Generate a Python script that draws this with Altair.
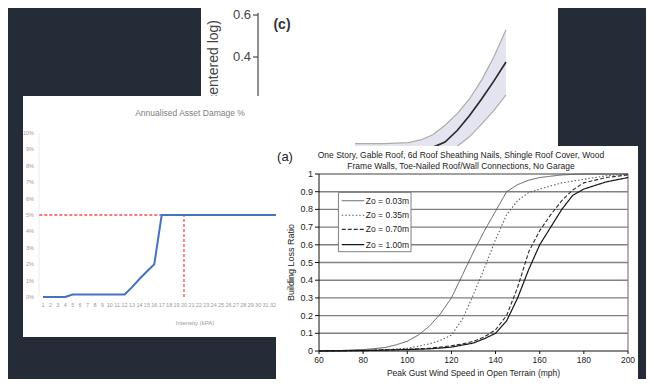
import altair as alt
import pandas as pd

BG = "#252b37"
FONT = "Liberation Sans"

# ---------------- panel (c): centred-log effect with confidence band ----------------
c_pos = [0, 1, 2, 3, 4, 5, 6, 6.5, 7, 7.5, 8, 8.5, 9, 9.5, 10]
c_upper = [0.01, 0.0, -0.005, -0.01, -0.012, -0.012, -0.008, 0.005, 0.03, 0.075, 0.13, 0.2, 0.29, 0.4, 0.53]
c_mean = [-0.03, -0.035, -0.04, -0.045, -0.048, -0.05, -0.048, -0.04, -0.03, -0.005, 0.05, 0.12, 0.2, 0.285, 0.376]
c_lower = [-0.07, -0.075, -0.08, -0.085, -0.088, -0.09, -0.09, -0.085, -0.075, -0.055, -0.025, 0.02, 0.08, 0.145, 0.22]
c_ticks = [0.4, 0.6]
c_tick_labels = ["0.4", "0.6"]
c_label = "(c)"
c_ytitle = "Partial effect (centered log)"

# ---------------- left panel: annualised asset damage ----------------
dmg_title = "Annualised Asset Damage %"
dmg_xtitle = "Intensity (kPA)"
dmg_kpa = list(range(1, 35))
dmg_pct = [0, 0, 0, 0, 0.15, 0.15, 0.15, 0.15, 0.15, 0.15, 0.15, 0.15,
           0.6, 1.1, 1.55, 2.0, 5.0] + [5.0] * 17
dmg_xticks = list(range(1, 33))
dmg_yticks = list(range(0, 11))
dmg_ytick_labels = [f"{v}%" for v in dmg_yticks]
ref_kpa = 20
ref_pct = 5

# ---------------- panel (a): building loss ratio curves ----------------
a_label = "(a)"
a_title = ("One Story, Gable Roof, 6d Roof Sheathing Nails, Shingle Roof Cover, Wood\n"
           "Frame Walls, Toe-Nailed Roof/Wall Connections, No Garage")
a_xtitle = "Peak Gust Wind Speed in Open Terrain (mph)"
a_ytitle = "Building Loss Ratio"
zo_labels = ["Zo = 0.03m", "Zo = 0.35m", "Zo = 0.70m", "Zo = 1.00m"]

zo003_speed = [60, 70, 80, 85, 90, 95, 100, 105, 110, 115, 120, 125, 130, 135, 140, 145, 150, 155, 160, 170, 180, 190, 200]
zo003_ratio = [0, 0.003, 0.008, 0.013, 0.02, 0.035, 0.055, 0.09, 0.14, 0.21, 0.3, 0.43, 0.56, 0.68, 0.79, 0.9, 0.94, 0.965, 0.98, 0.995, 1.0, 1.0, 1.0]

zo035_speed = [60, 80, 90, 100, 110, 115, 120, 125, 130, 135, 140, 145, 150, 155, 160, 170, 180, 190, 200]
zo035_ratio = [0, 0.004, 0.008, 0.015, 0.04, 0.06, 0.09, 0.18, 0.32, 0.47, 0.63, 0.77, 0.85, 0.895, 0.915, 0.95, 0.97, 0.99, 1.0]

zo070_speed = [60, 80, 100, 110, 120, 125, 130, 135, 140, 145, 150, 155, 160, 165, 170, 175, 180, 190, 200]
zo070_ratio = [0, 0.003, 0.01, 0.015, 0.03, 0.04, 0.055, 0.08, 0.12, 0.2, 0.36, 0.56, 0.68, 0.77, 0.85, 0.91, 0.95, 0.98, 0.995]

zo100_speed = [60, 80, 100, 110, 120, 130, 135, 140, 145, 150, 155, 160, 165, 170, 175, 180, 190, 200]
zo100_ratio = [0, 0.002, 0.008, 0.012, 0.022, 0.045, 0.07, 0.1, 0.17, 0.3, 0.46, 0.6, 0.7, 0.8, 0.88, 0.915, 0.955, 0.98]

a_xticks = [60, 80, 100, 120, 140, 160, 180, 200]
a_yticks = [0, 0.1, 0.2, 0.3, 0.4, 0.5, 0.6, 0.7, 0.8, 0.9, 1.0]
a_ytick_labels = ["0", "0.1", "0.2", "0.3", "0.4", "0.5", "0.6", "0.7", "0.8", "0.9", "1"]
a_grid = [0.1, 0.2, 0.3, 0.4, 0.5, 0.6, 0.7, 0.8, 0.9, 1.0]

legend_rows = [0.849, 0.767, 0.687, 0.601]
legend_box = dict(x1=[68.8], x2=[101.7], y1=[0.561], y2=[0.896])
legend_sample = (70.3, 80.5)
legend_text_x = 81.2

zo_colors = ["#5a5a5a", "#5a5a5a", "#303030", "#151515"]
zo_dashes = [[1, 0], [1.5, 2], [4, 2], [1, 0]]
zo_widths = [1.0, 1.2, 1.5, 2.4]

# ======================================================================
def one_row(**kw):
    return pd.DataFrame({k: [v] for k, v in kw.items()})

def panel_rect(x0, x1, y0, y1):
    return alt.Chart(one_row(p="panel")).mark_rect(color="white").encode(
        x=alt.value(x0), x2=alt.value(x1), y=alt.value(y0), y2=alt.value(y1))

def free_text(txt, x, y, **mk):
    return alt.Chart(one_row(t=txt)).mark_text(**mk).encode(
        x=alt.value(x), y=alt.value(y), text="t:N")

# ---- panel (c)
c_df = pd.DataFrame({"pos": c_pos, "upper": c_upper, "mean": c_mean, "lower": c_lower})
c_xs = alt.Scale(domain=[0, 10], range=[254, 498], nice=False, zero=False)
c_ys = alt.Scale(domain=[0.2143, 0.6095], range=[88, 5], nice=False, zero=False)
c_base = alt.Chart(c_df)
cx = alt.X("pos:Q", scale=c_xs, axis=None)
c_band = c_base.mark_area(color="#e4e4f1", opacity=1).encode(
    x=cx, y=alt.Y("upper:Q", scale=c_ys, axis=None), y2="lower:Q")
c_up = c_base.mark_line(color="#acacac", strokeWidth=1.2).encode(
    x=cx, y=alt.Y("upper:Q", scale=c_ys, axis=None))
c_lo = c_base.mark_line(color="#acacac", strokeWidth=1.2).encode(
    x=cx, y=alt.Y("lower:Q", scale=c_ys, axis=None))
c_mid = c_base.mark_line(color="#2a2a2a", strokeWidth=1.7).encode(
    x=cx, y=alt.Y("mean:Q", scale=c_ys, axis=None))
c_tick_df = pd.DataFrame({"v": c_ticks, "lab": c_tick_labels})
c_axis_line = alt.Chart(one_row(y1=c_ys.domain[0], y2=c_ys.domain[1])).mark_rule(
    color="#555555", strokeWidth=1.3).encode(
    x=alt.value(250), y=alt.Y("y1:Q", scale=c_ys, axis=None), y2="y2:Q")
c_axis_ticks = alt.Chart(c_tick_df).mark_rule(color="#555555", strokeWidth=1.3).encode(
    x=alt.value(245), x2=alt.value(250), y=alt.Y("v:Q", scale=c_ys, axis=None))
c_axis_labels = alt.Chart(c_tick_df).mark_text(
    align="right", baseline="middle", fontSize=13, color="#444444").encode(
    x=alt.value(243), y=alt.Y("v:Q", scale=c_ys, axis=None), text="lab:N")
layer_c = alt.layer(c_band, c_up, c_lo, c_mid, c_axis_line, c_axis_ticks, c_axis_labels)

c_ytitle_mark = free_text(c_ytitle, 206, 12, angle=270, align="right", baseline="middle",
                          fontSize=14, color="#444444")
c_label_mark = free_text(c_label, 274, 17, fontSize=14, fontWeight="bold", color="#333333")

# ---- left panel
l_df = pd.DataFrame({"kpa": dmg_kpa, "pct": dmg_pct})
l_xs = alt.Scale(domain=[1, 34], range=[35, 35 + 33 * 7.42], nice=False, zero=False)
l_ys = alt.Scale(domain=[0, 10], range=[289, 125], nice=False, zero=False)
l_axis_line = alt.Chart(one_row(y1=0, y2=10)).mark_rule(color="#ececec", strokeWidth=1).encode(
    x=alt.value(31), y=alt.Y("y1:Q", scale=l_ys, axis=None), y2="y2:Q")
l_xlab_df = pd.DataFrame({"kpa": dmg_xticks, "lab": [str(v) for v in dmg_xticks]})
l_xlabels = alt.Chart(l_xlab_df).mark_text(fontSize=5.5, color="#9a9a9a", baseline="middle").encode(
    x=alt.X("kpa:Q", scale=l_xs, axis=None), y=alt.value(297), text="lab:N")
l_ylab_df = pd.DataFrame({"pct": dmg_yticks, "lab": dmg_ytick_labels})
l_ylabels = alt.Chart(l_ylab_df).mark_text(fontSize=5.5, color="#9a9a9a", align="right",
                                           baseline="middle").encode(
    x=alt.value(26), y=alt.Y("pct:Q", scale=l_ys, axis=None), text="lab:N")
l_line = alt.Chart(l_df).mark_line(color="#4472c4", strokeWidth=2).encode(
    x=alt.X("kpa:Q", scale=l_xs, axis=None),
    y=alt.Y("pct:Q", scale=l_ys, axis=None))
l_ref_df = pd.DataFrame({"x": [0.5, ref_kpa], "x2": [ref_kpa, ref_kpa],
                         "y": [ref_pct, 0], "y2": [ref_pct, ref_pct]})
l_ref = alt.Chart(l_ref_df).mark_rule(color="#ff4b4b", strokeDash=[3, 2], strokeWidth=1.3).encode(
    x=alt.X("x:Q", scale=l_xs, axis=None), x2="x2:Q",
    y=alt.Y("y:Q", scale=l_ys, axis=None), y2="y2:Q")
layer_l = alt.layer(l_axis_line, l_xlabels, l_ylabels, l_ref, l_line)

l_title = free_text(dmg_title, 182, 105, fontSize=8.5, color="#808080")
l_xtitle = free_text(dmg_xtitle, 187, 315, fontSize=6, color="#9a9a9a")

# ---- panel (a)
rows = []
for lab, sp, rt in zip(zo_labels,
                       [zo003_speed, zo035_speed, zo070_speed, zo100_speed],
                       [zo003_ratio, zo035_ratio, zo070_ratio, zo100_ratio]):
    for s, r in zip(sp, rt):
        rows.append({"speed": s, "ratio": r, "zo": lab})
a_df = pd.DataFrame(rows)

A_BOTTOM = 343
a_xs = alt.Scale(domain=[60, 200], range=[311, 620], nice=False, zero=False)
a_ys = alt.Scale(domain=[0, 1], range=[A_BOTTOM, 166], nice=False, zero=False)
col = alt.Color("zo:N", scale=alt.Scale(domain=zo_labels, range=zo_colors), legend=None)
dash = alt.StrokeDash("zo:N", scale=alt.Scale(domain=zo_labels, range=zo_dashes), legend=None)
width = alt.StrokeWidth("zo:N", scale=alt.Scale(domain=zo_labels, range=zo_widths), legend=None)

a_grid_df = pd.DataFrame({"g": a_grid, "x1": [60] * len(a_grid), "x2": [200] * len(a_grid)})
a_gridlines = alt.Chart(a_grid_df).mark_rule(color="#808080", strokeWidth=1.4).encode(
    x=alt.X("x1:Q", scale=a_xs, axis=None), x2="x2:Q",
    y=alt.Y("g:Q", scale=a_ys, axis=None))
a_border = alt.Chart(one_row(x=200, y1=0, y2=1)).mark_rule(color="#808080", strokeWidth=1.2).encode(
    x=alt.X("x:Q", scale=a_xs, axis=None), y=alt.Y("y1:Q", scale=a_ys, axis=None), y2="y2:Q")
a_lines = alt.Chart(a_df).mark_line().encode(
    x=alt.X("speed:Q", scale=a_xs, axis=None),
    y=alt.Y("ratio:Q", scale=a_ys, axis=None),
    color=col, strokeDash=dash, strokeWidth=width)

# axes drawn through the (a) scales
a_yaxis_line = alt.Chart(one_row(x=60, y1=0, y2=1)).mark_rule(color="#111111", strokeWidth=1).encode(
    x=alt.X("x:Q", scale=a_xs, axis=None), y=alt.Y("y1:Q", scale=a_ys, axis=None), y2="y2:Q")
a_xaxis_line = alt.Chart(one_row(y=0, x1=60, x2=200)).mark_rule(color="#111111", strokeWidth=1).encode(
    y=alt.Y("y:Q", scale=a_ys, axis=None), x=alt.X("x1:Q", scale=a_xs, axis=None), x2="x2:Q")
a_ytick_df = pd.DataFrame({"v": a_yticks, "lab": a_ytick_labels})
a_yticks_m = alt.Chart(a_ytick_df).mark_rule(color="#111111", strokeWidth=1).encode(
    x=alt.value(307), x2=alt.value(311), y=alt.Y("v:Q", scale=a_ys, axis=None))
a_ylabels = alt.Chart(a_ytick_df).mark_text(align="right", baseline="middle", fontSize=9,
                                            color="#222222").encode(
    x=alt.value(305), y=alt.Y("v:Q", scale=a_ys, axis=None), text="lab:N")
a_xtick_df = pd.DataFrame({"v": a_xticks, "lab": [str(v) for v in a_xticks]})
a_xticks_m = alt.Chart(a_xtick_df).mark_rule(color="#111111", strokeWidth=1).encode(
    x=alt.X("v:Q", scale=a_xs, axis=None), y=alt.value(A_BOTTOM), y2=alt.value(A_BOTTOM + 3))
a_xlabels = alt.Chart(a_xtick_df).mark_text(baseline="middle", fontSize=8.5, color="#222222").encode(
    x=alt.X("v:Q", scale=a_xs, axis=None), y=alt.value(A_BOTTOM + 9), text="lab:N")

leg_box = alt.Chart(pd.DataFrame(legend_box)).mark_rect(
    fill="white", stroke="#808080", strokeWidth=1).encode(
    x=alt.X("x1:Q", scale=a_xs, axis=None), x2="x2:Q",
    y=alt.Y("y1:Q", scale=a_ys, axis=None), y2="y2:Q")
leg_df = pd.DataFrame({"zo": zo_labels, "row": legend_rows,
                       "xs": [legend_sample[0]] * 4, "xe": [legend_sample[1]] * 4,
                       "xt": [legend_text_x] * 4})
leg_lines = alt.Chart(leg_df).mark_rule().encode(
    x=alt.X("xs:Q", scale=a_xs, axis=None), x2="xe:Q",
    y=alt.Y("row:Q", scale=a_ys, axis=None),
    color=col, strokeDash=dash, strokeWidth=width)
leg_text = alt.Chart(leg_df).mark_text(align="left", baseline="middle", fontSize=8.5,
                                       color="#222222").encode(
    x=alt.X("xt:Q", scale=a_xs, axis=None), y=alt.Y("row:Q", scale=a_ys, axis=None),
    text="zo:N")
layer_a = alt.layer(a_gridlines, a_border, a_lines, a_yaxis_line, a_xaxis_line,
                    a_yticks_m, a_ylabels, a_xticks_m, a_xlabels,
                    leg_box, leg_lines, leg_text)

a_title_mark = free_text(a_title, 453, 142.5, lineBreak="\n", lineHeight=11.5,
                         baseline="top", fontSize=8.5, color="#222222")
a_label_mark = free_text(a_label, 277, 149, fontSize=13, color="#222222")
a_ytitle_mark = free_text(a_ytitle, 283, 254.5, angle=270, align="center",
                          baseline="middle", fontSize=9, color="#222222")
a_xtitle_mark = free_text(a_xtitle, 465.5, 370, baseline="bottom", fontSize=8.5, color="#222222")

chart = alt.layer(
    panel_rect(193, 550, 0, 200), layer_c, c_ytitle_mark, c_label_mark,
    panel_rect(15, 347, 88, 329), layer_l, l_title, l_xtitle,
    panel_rect(268, 630, 138, 371), layer_a, a_title_mark, a_label_mark,
    a_ytitle_mark, a_xtitle_mark,
).resolve_scale(x="independent", y="independent").properties(
    width=638, height=371, padding=0,
    autosize=alt.AutoSizeParams(type="none"),
).configure(background=BG, font=FONT).configure_view(strokeWidth=0)

chart.save("out.html", embed_options={"renderer": "svg", "actions": False})
